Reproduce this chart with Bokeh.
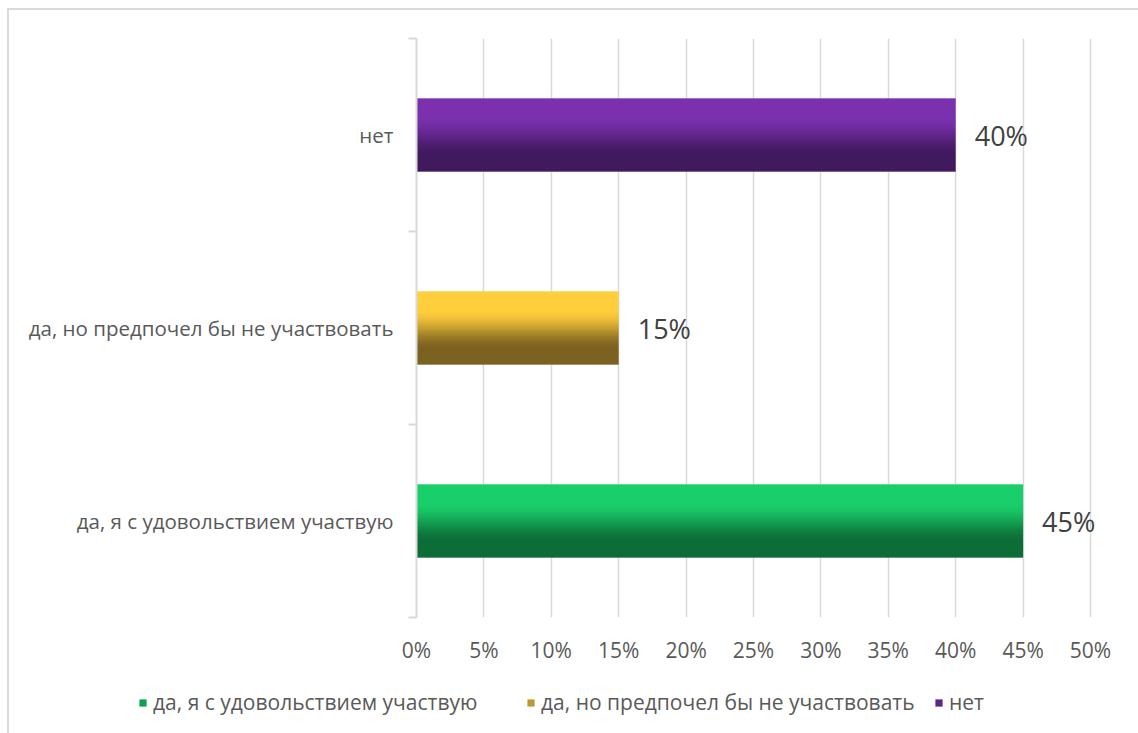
import numpy as np
from bokeh.plotting import figure
from bokeh.layouts import column
from bokeh.models import (ColumnDataSource, Range1d, FixedTicker, PrintfTickFormatter,
                          LinearAxis, LabelSet, Legend, LegendItem)
from bokeh.core.properties import value
from bokeh.embed import file_html
from bokeh.resources import INLINE

# ---- data ----
categories = ["да, я с удовольствием участвую", "да, но предпочел бы не участвовать", "нет"]
values = [45, 15, 40]
top_colors = ["#19CF6A", "#FFCE3C", "#7B30AE"]
bottom_colors = ["#0C6D37", "#7C6220", "#41195E"]
x_ticks = [0, 5, 10, 15, 20, 25, 30, 35, 40, 45, 50]

FONT = "Open Sans"
TXT = "#595959"
GRID = "#d9d9d9"
LINE = "linear-gradient(#d9d9d9,#d9d9d9)"

def hex2rgb(h):
    h = h.lstrip("#")
    return tuple(int(h[i:i + 2], 16) for i in (0, 2, 4))

def mix(c1, c2, t):
    a, b = hex2rgb(c1), hex2rgb(c2)
    return tuple(int(round(a[i] + (b[i] - a[i]) * t)) for i in range(3))

def ramp(s):
    if s < 0.25:
        return 0.0
    if s > 0.8:
        return 1.0
    t = (s - 0.25) / 0.55
    return t * t * (3 - 2 * t)

# layout geometry (pixels)
FRAME_L, FRAME_R_50 = 416, 1090
CANVAS_W = 1138
FRAME_R = 1130
x_end = x_ticks[-1] * (FRAME_R - FRAME_L) / (FRAME_R_50 - FRAME_L)

p = figure(width=CANVAS_W, height=670, output_backend="svg", toolbar_location=None,
           x_range=Range1d(0, x_end), y_range=Range1d(0, len(categories)),
           min_border_left=FRAME_L, min_border_right=CANVAS_W - FRAME_R,
           min_border_top=38, min_border_bottom=53)
p.frame_align = False
p.border_fill_alpha = 0
p.styles = {"background": f"{LINE} 7px 8px / 2px 100% no-repeat, {LINE} 7px 8px / 100% 2px no-repeat, white"}
p.outline_line_color = None
p.background_fill_color = "white"

# grid
p.ygrid.visible = False
p.xgrid.ticker = FixedTicker(ticks=x_ticks)
p.xgrid.grid_line_color = GRID
p.xgrid.grid_line_width = 1.5

# x axis
p.xaxis.ticker = FixedTicker(ticks=x_ticks)
p.xaxis.formatter = PrintfTickFormatter(format="%d%%")
p.xaxis.axis_line_color = None
p.xaxis.major_tick_line_color = None
p.xaxis.major_tick_out = 0
p.xaxis.minor_tick_line_color = None
p.xaxis.major_label_standoff = 18
p.xaxis.major_label_text_font = FONT
p.xaxis.major_label_text_font_size = "21px"
p.xaxis.major_label_text_color = TXT

# y axis: boundary ticks only
n = len(categories)
p.yaxis.ticker = FixedTicker(ticks=list(range(n + 1)))
p.yaxis.major_label_overrides = {i: "" for i in range(n + 1)}
p.yaxis.major_label_text_font_size = "0px"
p.yaxis.major_label_standoff = 0
p.yaxis.axis_line_color = GRID
p.yaxis.axis_line_width = 2
p.yaxis.major_tick_line_color = GRID
p.yaxis.major_tick_line_width = 2
p.yaxis.major_tick_out = 8
p.yaxis.major_tick_in = 0
p.yaxis.minor_tick_line_color = None

# y axis: category labels
centers = [i + 0.5 for i in range(n)]
lab_axis = LinearAxis(ticker=FixedTicker(ticks=centers),
                      major_label_overrides={c: cat for c, cat in zip(centers, categories)})
lab_axis.axis_line_color = None
lab_axis.major_tick_line_color = None
lab_axis.minor_tick_line_color = None
lab_axis.major_label_standoff = 9
lab_axis.major_label_text_font = FONT
lab_axis.major_label_text_font_size = "20.5px"
lab_axis.major_label_text_color = TXT
p.add_layout(lab_axis, "left")

# bars with vertical gradient: one gradient image per bar, sized by the data
bar_h = 0.38
M = 120
mid_colors = []
for i, v in enumerate(values):
    img = np.zeros((M, 1, 4), dtype=np.uint8)
    for j in range(M):
        s = 1 - (j + 0.5) / M  # row 0 is the bottom; s = 0 at the top
        img[j, 0, :3] = mix(top_colors[i], bottom_colors[i], ramp(s))
        img[j, 0, 3] = 255
    p.image_rgba(image=[img.view(np.uint32).reshape(M, 1)], x=0, y=centers[i] - bar_h / 2,
                 dw=v, dh=bar_h)
    mid_colors.append("#%02x%02x%02x" % mix(top_colors[i], bottom_colors[i], 0.5))

# data labels
lab_src = ColumnDataSource(dict(x=values, y=centers, t=["%d%%" % v for v in values]))
p.add_layout(LabelSet(x="x", y="y", text="t", source=lab_src, x_offset=19,
                      text_align="left", text_baseline="middle",
                      text_font=value(FONT), text_font_size="27px", text_color="#404040"))

# ---- legend strip ----
q = figure(width=CANVAS_W, height=63, output_backend="svg", toolbar_location=None,
           x_range=Range1d(1000, 1001), y_range=Range1d(1000, 1001),
           x_axis_location=None, y_axis_location=None, min_border=0)
q.frame_align = False
q.border_fill_alpha = 0
q.styles = {"background": f"{LINE} 7px 0px / 2px 100% no-repeat, white"}
q.outline_line_color = None
q.background_fill_alpha = 0
q.grid.visible = False

leg_x = [138, 526, 934]
for i, cat in enumerate(categories):
    r = q.hbar(y=[centers[i]], left=0, right=[values[i]], height=bar_h,
               fill_color=mid_colors[i], line_color=None)
    lg = Legend(items=[LegendItem(label=cat, renderers=[r])],
                location=(leg_x[i], 17),
                orientation="horizontal", padding=0, margin=0, spacing=0,
                border_line_color=None, background_fill_alpha=0,
                glyph_width=9, glyph_height=9, label_standoff=6,
                label_text_font=FONT, label_text_font_size="21px", label_text_color=TXT)
    q.add_layout(lg)

layout = column(p, q, spacing=0)
open("out.html", "w").write(file_html(layout, INLINE))
